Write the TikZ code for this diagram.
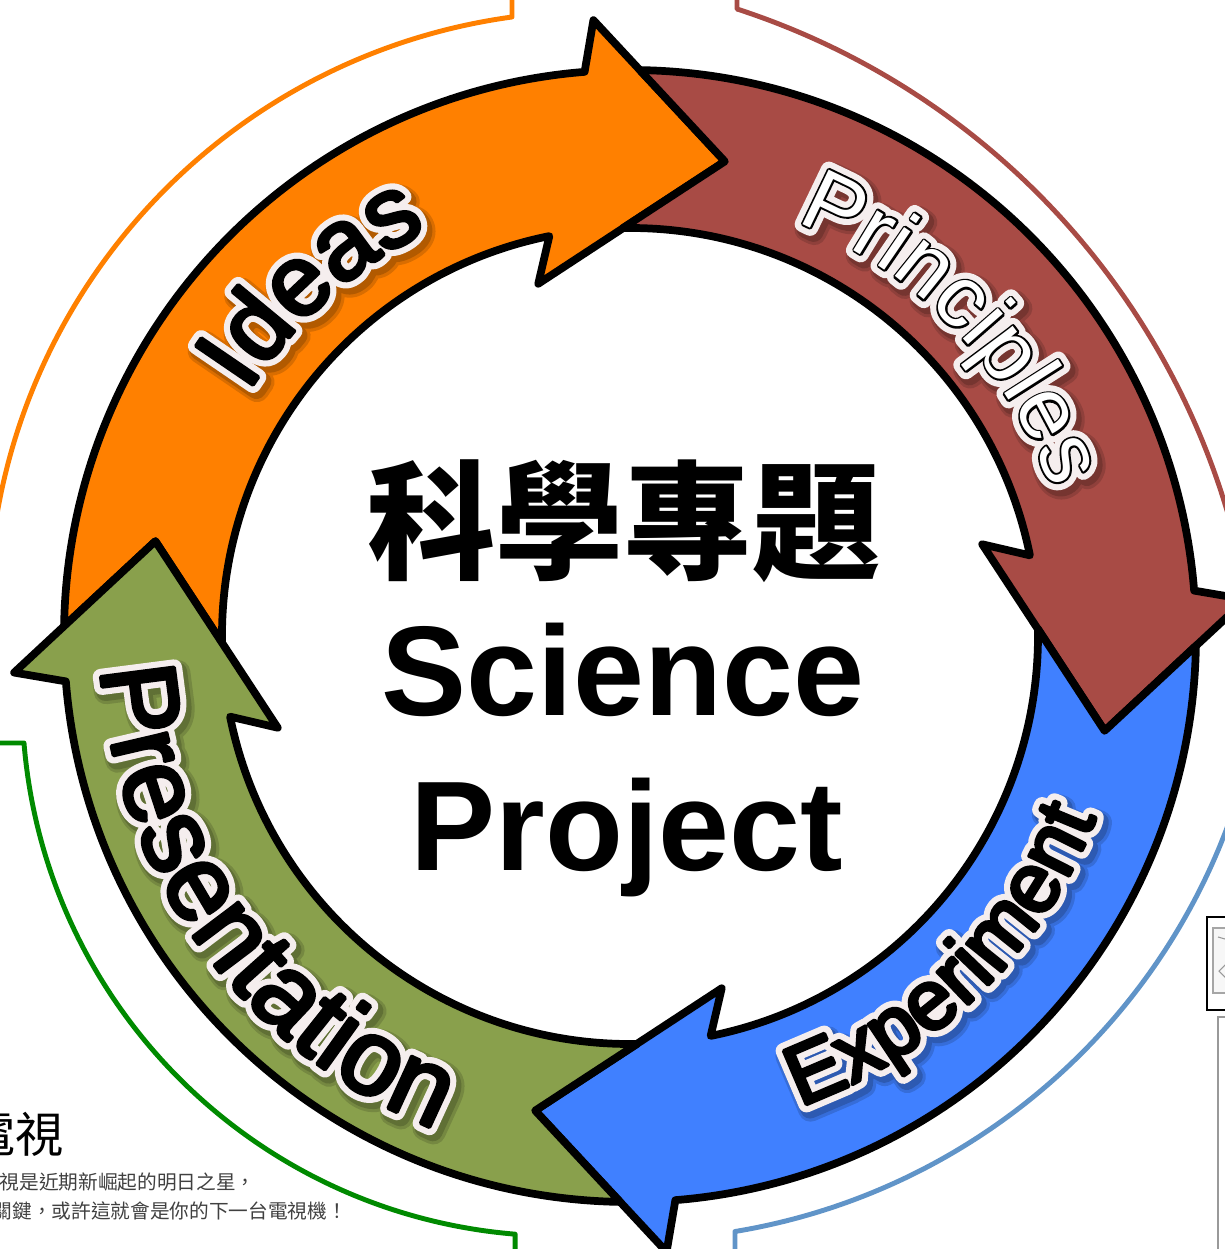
\documentclass[tikz,border=0pt]{standalone}
\usepackage{fontspec}
\setmainfont{Liberation Sans}
\newfontfamily\cjk{Noto Sans CJK TC}
\usetikzlibrary{decorations.text}

\definecolor{ideasorange}{RGB}{255,128,0}
\definecolor{principlesred}{RGB}{168,75,69}
\definecolor{experimentblue}{RGB}{64,128,255}
\definecolor{presentgreen}{RGB}{137,160,76}
\definecolor{lineorange}{RGB}{255,128,0}
\definecolor{linered}{RGB}{168,75,69}
\definecolor{lineblue}{RGB}{96,148,200}
\definecolor{linegreen}{RGB}{0,138,0}
\definecolor{halo}{RGB}{245,238,238}

% stroked text (fill + outline of the given width, in bp)
\newcommand\strokedtext[1]{\special{pdf:bcontent}\special{pdf:literal direct 2 Tr #1 w 1 j 1 J}}
\newcommand\plaintext{\special{pdf:econtent}}

% one pass of text along an arc: text, size, colour, from, to, radius, shift
\newcommand\arcpass[7]{%
  \path[shift={#7}, decorate,
    decoration={text along path, text align=center,
      text={|\fontsize{#2}{#2}\selectfont\color{#3}|#1}}]
    (#4:#6) arc[start angle=#4, end angle=#5, radius=#6];
}

% text on an arc with a soft shadow and a halo:
% #1 text, #2 size, #3 band colour, #4 letters, #5 from, #6 to, #7 radius
\newcommand\ringlabel[7]{%
  \strokedtext{7}\arcpass{#1}{#2}{#3!85!black}{#5}{#6}{#7}{(0.04,-0.05)}\plaintext
  \strokedtext{5.5}\arcpass{#1}{#2}{#3!70!black}{#5}{#6}{#7}{(0.035,-0.045)}\plaintext
  \strokedtext{4.6}\arcpass{#1}{#2}{halo}{#5}{#6}{#7}{(0,0)}\plaintext
  \strokedtext{1.1}\arcpass{#1}{#2}{black}{#5}{#6}{#7}{(0,0)}\plaintext
  \def\lettercol{#4}\def\blackcol{black}%
  \ifx\lettercol\blackcol\else
    \arcpass{#1}{#2}{#4}{#5}{#6}{#7}{(0,0)}%
  \fi
}

\begin{document}
\begin{tikzpicture}[
    ringarrow/.style={draw=black, line width=2.2pt, line join=round},
    ringline/.style={line width=1.4pt, line join=round},
    title/.style={font=\bfseries\fontsize{36.3pt}{40pt}\selectfont, anchor=base}]
  \useasboundingbox (-6.30,-6.13) rectangle (5.95,6.36);

  % thin outer ring
  \draw[ringline, lineorange] (-1.18,6.6) -- (-1.18,6.19)
    arc[start angle=97.8, end angle=178, radius=6.06];
  \draw[ringline, linered] (1.07,6.6) -- (1.07,6.27)
    arc[start angle=72, end angle=12, radius=7.55];
  \draw[ringline, lineblue] (1.05,-6.4) -- (1.05,-5.955)
    arc[start angle=-80.6, end angle=-15, radius=6.37];
  \draw[ringline, linegreen] (-6.5,-1.07) -- (-6.06,-1.07)
    arc[start angle=184.7, end angle=265.3, radius=5.37] -- (-1.15,-6.4);

  % the four arrows, each a quarter turn on
  \filldraw[ringarrow, fill=ideasorange] (179:5.66)
    arc[start angle=179, end angle=94.6, radius=5.66] -- (93.4:6.17)
    -- (78.7:4.84) -- (104.6:3.64) -- (101.4:4.08)
    arc[start angle=101.4, end angle=181, radius=4.08] -- (168.7:4.84) -- cycle;
  \filldraw[ringarrow, fill=principlesred, rotate=-90] (179:5.66)
    arc[start angle=179, end angle=94.6, radius=5.66] -- (93.4:6.17)
    -- (78.7:4.84) -- (104.6:3.64) -- (101.4:4.08)
    arc[start angle=101.4, end angle=181, radius=4.08] -- (168.7:4.84) -- cycle;
  \filldraw[ringarrow, fill=experimentblue, rotate=-180] (179:5.66)
    arc[start angle=179, end angle=94.6, radius=5.66] -- (93.4:6.17)
    -- (78.7:4.84) -- (104.6:3.64) -- (101.4:4.08)
    arc[start angle=101.4, end angle=181, radius=4.08] -- (168.7:4.84) -- cycle;
  \filldraw[ringarrow, fill=presentgreen, rotate=90] (179:5.66)
    arc[start angle=179, end angle=94.6, radius=5.66] -- (93.4:6.17)
    -- (78.7:4.84) -- (104.6:3.64) -- (101.4:4.08)
    arc[start angle=101.4, end angle=181, radius=4.08] -- (168.7:4.84) -- cycle;

  % arrow labels
  \ringlabel{Ideas}{28.5pt}{ideasorange}{black}{172}{92}{4.53}
  \ringlabel{Principles}{25pt}{principlesred}{white}{83.7}{3.7}{4.46}
  \ringlabel{Experiment}{24pt}{experimentblue}{black}{-85.7}{-5.7}{5.0}
  \ringlabel{Presentation}{30.5pt}{presentgreen}{black}{166}{266}{5.30}

  % centre
  \node[font=\cjk\bfseries\fontsize{36.5pt}{40pt}\selectfont] (head) at (-0.06,1.15) {科學專題};
  \node[title] (science) at (-0.07,-0.79) {Science};
  \node[title] (project) at (-0.03,-2.34) {Project};

  % page text showing at the lower left
  \node[font=\cjk\fontsize{13.7pt}{14pt}\selectfont, anchor=base west, inner sep=0pt]
    (tvhead) at (-6.63,-5.16) {電視};
  \node[font=\cjk\fontsize{5.6pt}{6pt}\selectfont, anchor=base west, inner sep=0pt, text=black!75]
    (tvline1) at (-6.31,-5.53) {視是近期新崛起的明日之星，};
  \node[font=\cjk\fontsize{5.6pt}{6pt}\selectfont, anchor=base west, inner sep=0pt, text=black!75]
    (tvline2) at (-6.38,-5.82) {關鍵，或許這就會是你的下一台電視機！};

  % window edge at the right
  \draw[line width=0.8pt] (5.77,-2.81) rectangle (6.1,-3.74);
  \draw[gray!70, fill=gray!6] (5.83,-2.92) rectangle (6.1,-3.57);
  \draw[gray!80, line width=0.3pt] (5.88,-3.01) -- (5.95,-3.03);
  \draw[gray!80, line width=0.3pt] (5.96,-3.28) -- (5.89,-3.35) -- (5.96,-3.42);
  \draw[gray!80, line width=0.5pt] (5.88,-6.3) -- (5.88,-3.81) -- (6.1,-3.81);
\end{tikzpicture}
\end{document}
